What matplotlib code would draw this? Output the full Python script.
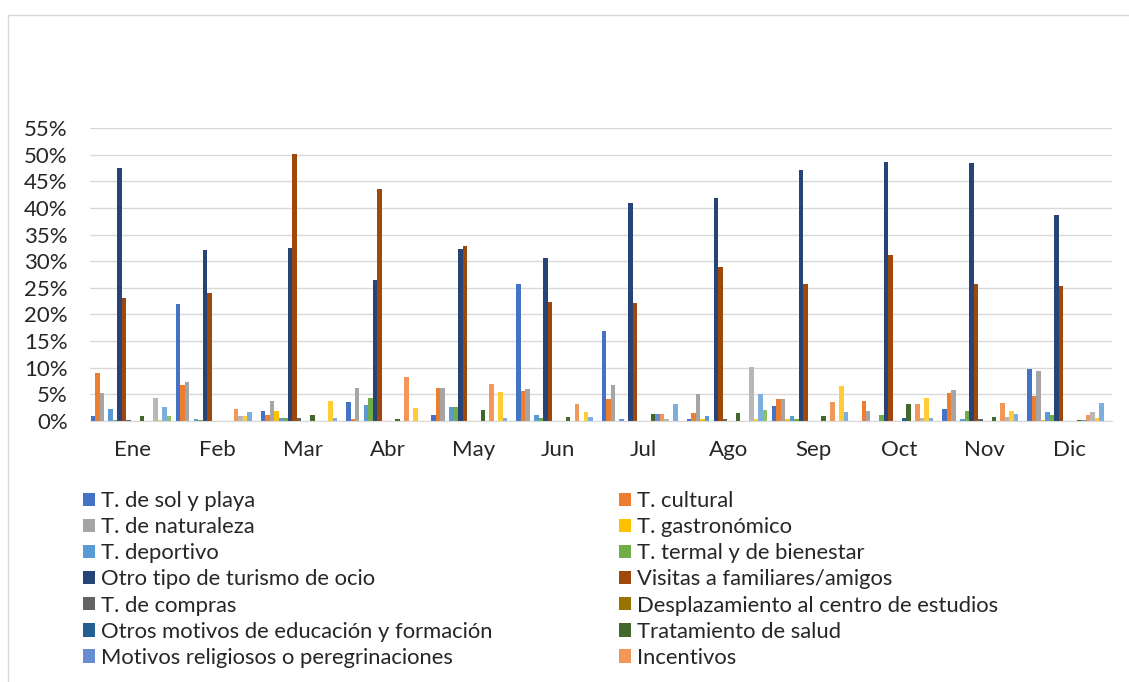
import numpy as np
import matplotlib.pyplot as plt
from matplotlib.patches import Patch
from matplotlib.lines import Line2D
from matplotlib.ticker import PercentFormatter

# ============================================================
# DATA (share of trips by motive, %)
# ============================================================

months = ["Ene", "Feb", "Mar", "Abr", "May", "Jun",
          "Jul", "Ago", "Sep", "Oct", "Nov", "Dic"]

legend_labels = [
    "T. de sol y playa", "T. cultural", "T. de naturaleza", "T. gastronómico",
    "T. deportivo", "T. termal y de bienestar", "Otro tipo de turismo de ocio",
    "Visitas a familiares/amigos", "T. de compras",
    "Desplazamiento al centro de estudios",
    "Otros motivos de educación y formación", "Tratamiento de salud",
    "Motivos religiosos o peregrinaciones", "Incentivos",
]

sol_playa    = [1.0, 22.0, 1.8, 3.6, 1.2, 25.7, 16.9, 0.4, 2.9, 0.0, 2.3, 9.8]
cultural     = [9.0, 6.8, 1.1, 0.4, 6.2, 5.7, 4.2, 1.5, 4.1, 3.8, 5.3, 4.6]
naturaleza   = [5.3, 7.4, 3.8, 6.2, 6.2, 6.1, 6.7, 5.0, 4.1, 1.8, 5.9, 9.4]
gastronomico = [0.0, 0.0, 1.8, 0.0, 0.0, 0.0, 0.0, 0.4, 0.4, 0.0, 0.0, 0.2]
deportivo    = [2.3, 0.4, 0.5, 3.0, 2.7, 1.1, 0.3, 1.0, 1.0, 0.0, 0.3, 1.6]
termal       = [0.2, 0.2, 0.5, 4.3, 2.7, 0.5, 0.0, 0.0, 0.4, 1.1, 1.8, 1.1]
otro_ocio    = [47.4, 32.1, 32.5, 26.5, 32.2, 30.6, 41.0, 41.9, 47.2, 48.6, 48.4, 38.7]
visitas      = [23.1, 24.0, 50.2, 43.6, 32.9, 22.4, 22.2, 28.9, 25.8, 31.2, 25.7, 25.4]
compras      = [0.25, 0.0, 0.5, 0.0, 0.0, 0.0, 0.0, 0.4, 0.0, 0.0, 0.4, 0.0]
estudios     = [0.0] * 12
otros_educ   = [0.0, 0.0, 0.0, 0.0, 0.0, 0.0, 0.0, 0.0, 0.0, 0.6, 0.0, 0.0]
salud        = [1.0, 0.0, 1.1, 0.4, 2.0, 0.8, 1.3, 1.5, 1.0, 3.2, 0.8, 0.25]
religiosos   = [0.0, 0.0, 0.0, 0.0, 0.0, 0.0, 1.3, 0.0, 0.0, 0.0, 0.0, 0.25]
incentivos   = [0.0, 2.2, 0.0, 8.2, 6.9, 3.1, 1.3, 0.0, 3.5, 3.2, 3.3, 1.1]
# series beyond the visible legend
serie_15     = [4.4, 1.0, 0.0, 0.0, 0.0, 0.0, 0.3, 10.1, 0.0, 0.5, 0.8, 1.6]
serie_16     = [0.2, 1.0, 3.8, 2.4, 5.5, 1.7, 0.0, 0.4, 6.5, 4.4, 1.8, 0.6]
serie_17     = [2.7, 1.7, 0.5, 0.0, 0.5, 0.8, 3.2, 5.0, 1.7, 0.5, 1.3, 3.3]
serie_18     = [1.0, 0.0, 0.0, 0.0, 0.0, 0.0, 0.0, 2.1, 0.0, 0.0, 0.0, 0.0]

series = [sol_playa, cultural, naturaleza, gastronomico, deportivo, termal,
          otro_ocio, visitas, compras, estudios, otros_educ, salud,
          religiosos, incentivos, serie_15, serie_16, serie_17, serie_18]

colors = ["#4472C4", "#ED7D31", "#A5A5A5", "#FFC000", "#5B9BD5", "#70AD47",
          "#264478", "#9E480E", "#636363", "#997300", "#255E91", "#43682B",
          "#698ED0", "#F1975A", "#B7B7B7", "#FFCD33", "#7CAFDD", "#8CC168"]

# ============================================================
# PLOT
# ============================================================

plt.rcParams["font.family"] = ["Lato", "DejaVu Sans"]

fig = plt.figure(figsize=(11.29, 6.82), dpi=100)
ax = fig.add_axes([90 / 1129, 1 - 421 / 682, 1022 / 1129, 293 / 682])

x = np.arange(len(months))
n = len(series)
w = 1 / (n + 1)
for i, (vals, c) in enumerate(zip(series, colors)):
    ax.bar(x + (i - (n - 1) / 2) * w - 0.02, np.array(vals) / 100, width=w,
           color=c, linewidth=0)

ax.set_xlim(-0.5, len(months) - 0.5)
ax.set_ylim(0, 0.55)
ax.set_yticks(np.arange(0, 0.551, 0.05))
ax.yaxis.set_major_formatter(PercentFormatter(1.0, decimals=0))
ax.set_xticks(x)
ax.set_xticklabels(months)
ax.tick_params(axis="both", length=0, labelsize=16, colors="#262626")
ax.tick_params(axis="y", pad=16)
ax.tick_params(axis="x", pad=14)
ax.grid(axis="y", color="#D9D9D9", linewidth=1)
ax.set_axisbelow(True)
for s in ["left", "right", "top"]:
    ax.spines[s].set_visible(False)
ax.spines["bottom"].set_color("#D9D9D9")

# legend: Excel fills row by row, two columns
handles = [Patch(facecolor=c) for c in colors[:14]]
left_idx = list(range(0, 14, 2))
right_idx = list(range(1, 14, 2))
for idx, xpos in [(left_idx, 72 / 1129), (right_idx, 608 / 1129)]:
    fig.legend([handles[k] for k in idx], [legend_labels[k] for k in idx],
               loc="upper left", bbox_to_anchor=(xpos, 1 - 480 / 682),
               frameon=False, fontsize=15.8, labelspacing=0.28,
               handlelength=0.55, handleheight=0.55, handletextpad=0.25,
               borderpad=0, labelcolor="#262626")

# chart area border
fig.add_artist(Line2D([8 / 1129, 8 / 1129], [0, 1 - 15 / 682],
                      transform=fig.transFigure, color="#D9D9D9", lw=1))
fig.add_artist(Line2D([8 / 1129, 1], [1 - 15 / 682, 1 - 15 / 682],
                      transform=fig.transFigure, color="#D9D9D9", lw=1))

fig.savefig("out.png", dpi=100)
